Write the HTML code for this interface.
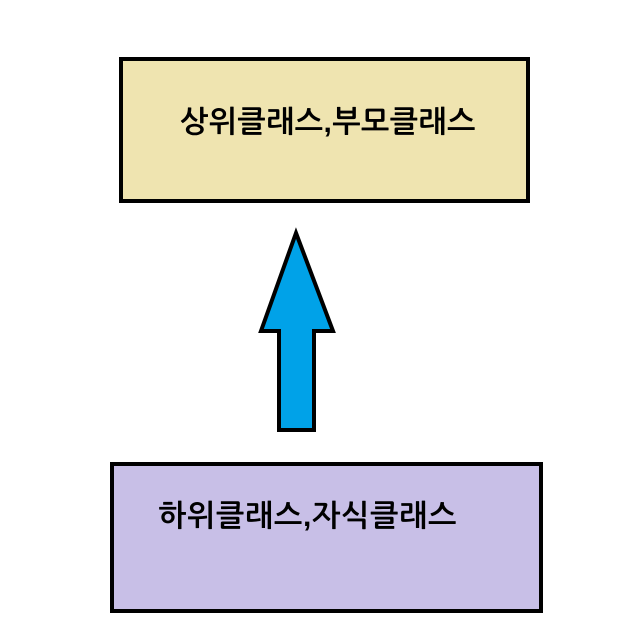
<!DOCTYPE html>
<html><head><meta charset="utf-8"><style>
body{margin:0;width:630px;height:644px;background:#fff;position:relative;overflow:hidden;font-family:"Liberation Sans","NanumGothic","Noto Sans CJK KR",sans-serif}
.box{position:absolute;box-sizing:border-box;border:4px solid #000}
.t{position:absolute;font-size:30px;font-weight:bold;color:#000;white-space:nowrap;line-height:1}
</style></head><body>
<div class="box" style="left:119px;top:57px;width:411px;height:146px;background:#EFE4B0"></div>
<div class="t" style="left:180px;top:108px;letter-spacing:0.5px">상위클래스,부모클래스</div>
<svg style="position:absolute;left:0;top:0" width="630" height="644">
<polygon points="296,233 333,331 314,331 314,430 279,430 279,331 261,331" fill="#00A2E8" stroke="#000" stroke-width="4" stroke-linejoin="miter"/>
</svg>
<div class="box" style="left:110px;top:462px;width:433px;height:151px;background:#C8BFE7"></div>
<div class="t" style="left:158px;top:502px;letter-spacing:0.8px">하위클래스,자식클래스</div>
</body></html>
